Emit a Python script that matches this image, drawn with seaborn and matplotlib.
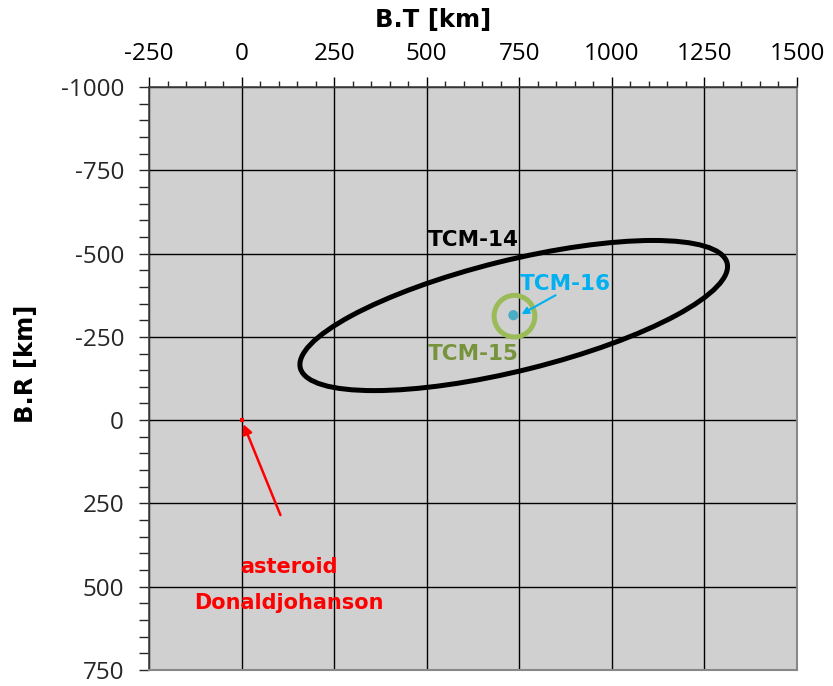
import numpy as np
import pandas as pd
import matplotlib
matplotlib.use("Agg")
import matplotlib.pyplot as plt
import seaborn as sns
from matplotlib.patches import Ellipse
from matplotlib.ticker import MultipleLocator

# -----------------------------
# Data
# -----------------------------
x_ticks = [-250, 0, 250, 500, 750, 1000, 1250, 1500]
y_ticks = [-1000, -750, -500, -250, 0, 250, 500, 750]

# error ellipses: centre (B.T, B.R), full width, full height, angle [deg]
ellipse_names = ["TCM-14", "TCM-15", "TCM-16"]
ellipse_centers = [(735, -314), (737, -312), (734, -315)]
ellipse_widths = [1195, 110, 14]
ellipse_heights = [330, 125, 16]
ellipse_angles = [-15.5, 0, 0]
ellipse_colors = ["black", "#9BBB59", "#4BACC6"]
ellipse_lw = [3.6, 3.6, 3.5]

# asteroid position
asteroid_bt = [0]
asteroid_br = [0]

# -----------------------------
# Style
# -----------------------------
sns.set_style("ticks", {"axes.facecolor": "#D0D0D0"})
plt.rcParams["font.family"] = ["DejaVu Sans"]
plt.rcParams["axes.unicode_minus"] = False

fig = plt.figure(figsize=(8.33, 6.86), dpi=100)
ax = fig.add_axes([149 / 833, 16 / 686, 648 / 833, 583 / 686])

# asteroid point
df_ast = pd.DataFrame({"B.T": asteroid_bt, "B.R": asteroid_br})
sns.scatterplot(data=df_ast, x="B.T", y="B.R", ax=ax, color="red", marker="s",
                s=12, linewidth=0, zorder=5)

# ellipses
for c, w, h, a, col, lw in zip(ellipse_centers, ellipse_widths, ellipse_heights,
                               ellipse_angles, ellipse_colors, ellipse_lw):
    ax.add_patch(Ellipse(c, w, h, angle=a, fill=False, edgecolor=col, lw=lw, zorder=4))

ax.set_xlim(-250, 1500)
ax.set_ylim(750, -1000)

# axis on top
ax.xaxis.tick_top()
ax.xaxis.set_label_position("top")
ax.set_xticks(x_ticks)
ax.set_yticks(y_ticks)
ax.xaxis.set_minor_locator(MultipleLocator(50))
ax.yaxis.set_minor_locator(MultipleLocator(50))
ax.tick_params(axis="x", which="major", direction="out", length=7, width=1,
               labelsize=17.5, pad=8, colors="black", labelfontfamily="Open Sans")
ax.tick_params(axis="x", which="minor", direction="out", length=4, width=1, top=True, bottom=False)
ax.tick_params(axis="y", which="major", direction="out", length=7, width=1,
               labelsize=17.5, pad=11, labelfontfamily="Open Sans")
ax.tick_params(axis="y", which="minor", direction="out", length=7, width=1)

ax.grid(True, which="major", color="black", lw=1.0)
ax.set_axisbelow(True)
for s in ["left", "top"]:
    ax.spines[s].set_color("#404040")
    ax.spines[s].set_linewidth(1.2)
for s in ["right", "bottom"]:
    ax.spines[s].set_visible(True)
    ax.spines[s].set_color("#888888")
    ax.spines[s].set_linewidth(1.5)

ax.set_xlabel("B.T [km]", fontsize=17.5, fontweight="bold", color="black")
ax.xaxis.set_label_coords((433 - 149) / 648, 1 + (87 - 27) / 583)
ax.set_ylabel("B.R [km]", fontsize=17.5, fontweight="bold", color="black")
ax.yaxis.set_label_coords(-(149 - 38) / 648, (670 - 364) / 583)

# labels
ax.text(502, -540, "TCM-14", color="black", fontsize=15.5, fontweight="bold",
        ha="left", va="center", zorder=6)
ax.text(502, -198, "TCM-15", color="#77933C", fontsize=15.5, fontweight="bold",
        ha="left", va="center", zorder=6)
ax.text(751, -408, "TCM-16", color="#00B0F0", fontsize=15.5, fontweight="bold",
        ha="left", va="center", zorder=6)
ax.annotate("", xy=(756, -318), xytext=(848, -375),
            arrowprops=dict(arrowstyle="-|>", color="#00B0F0", lw=1.5,
                            mutation_scale=10, shrinkA=0, shrinkB=0), zorder=6)

ax.text(127, 441, "asteroid", color="red", fontsize=15, fontweight="bold",
        ha="center", va="center", zorder=6)
ax.text(127, 549, "Donaldjohanson", color="red", fontsize=15, fontweight="bold",
        ha="center", va="center", zorder=6)
ax.annotate("", xy=(5, 12), xytext=(105, 285),
            arrowprops=dict(arrowstyle="-|>", color="red", lw=1.8,
                            mutation_scale=14, shrinkA=0, shrinkB=0), zorder=6)

fig.savefig("out.png", dpi=100)
